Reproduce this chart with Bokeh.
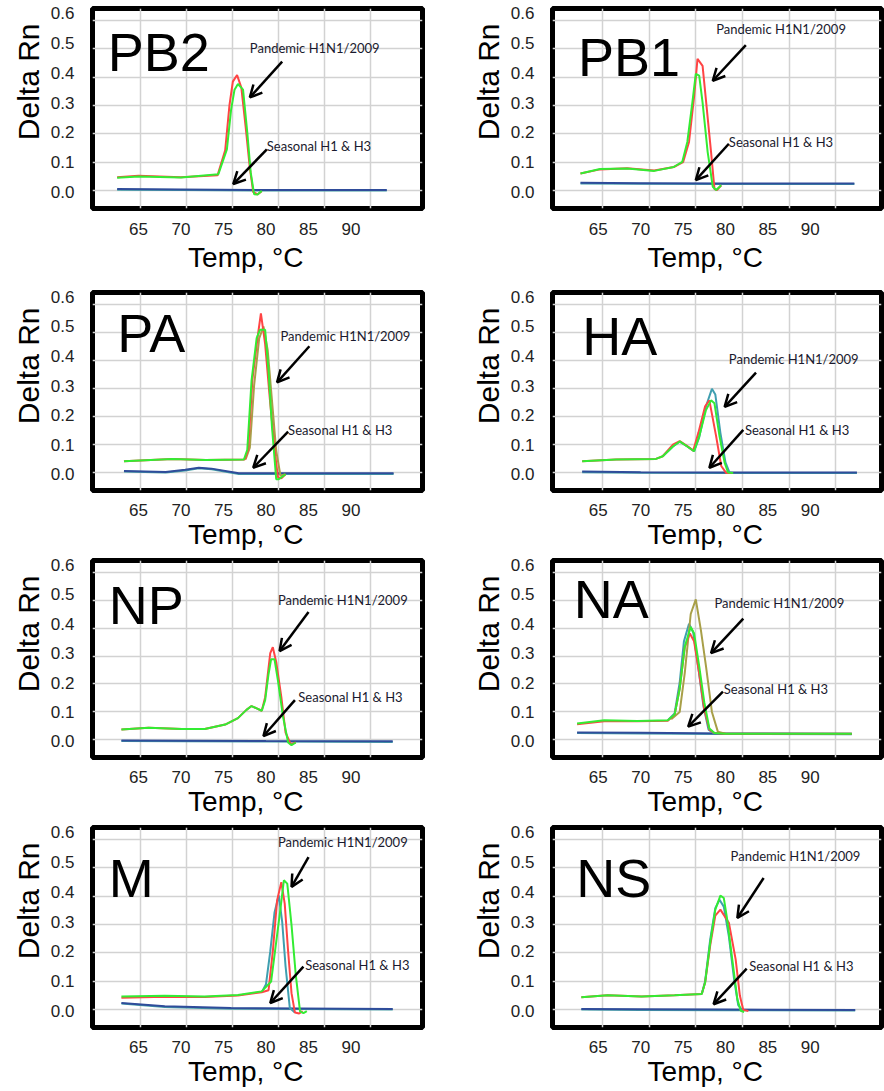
from bokeh.plotting import figure
from bokeh.layouts import gridplot
from bokeh.models import FixedTicker, PrintfTickFormatter, Label, Arrow, OpenHead
from bokeh.embed import file_html
from bokeh.resources import INLINE

# ---------------- data ----------------
X_TICKS = [65, 70, 75, 80, 85, 90]
Y_TICKS = [0.0, 0.1, 0.2, 0.3, 0.4, 0.5, 0.6]
PANELS = ["PB2", "PB1", "PA", "HA", "NP", "NA", "M", "NS"]
PANDEMIC_TEXT = "Pandemic H1N1/2009"
SEASONAL_TEXT = "Seasonal H1 & H3"
X_LABEL = "Temp, °C"
Y_LABEL = "Delta Rn"

# PB2
pb2_red_x = [62.5, 65.0, 70.0, 74.3, 75.2, 75.7, 76.1, 76.6, 77.1, 77.6, 78.1, 78.5, 79.0, 79.5]
pb2_red_y = [0.050, 0.055, 0.050, 0.056, 0.140, 0.290, 0.370, 0.392, 0.350, 0.220, 0.080, 0.000, -0.008, 0.003]
pb2_grn_x = [62.5, 65.0, 70.0, 74.4, 75.4, 75.9, 76.3, 76.7, 77.3, 77.8, 78.2, 78.6, 79.0, 79.5]
pb2_grn_y = [0.048, 0.052, 0.049, 0.060, 0.143, 0.277, 0.343, 0.362, 0.343, 0.199, 0.066, -0.007, -0.008, 0.004]
pb2_sea_x = [62.5, 70.0, 80.0, 94.2]
pb2_sea_y = [0.010, 0.009, 0.007, 0.007]

# PB1
pb1_red_x = [62.9, 65.2, 68.4, 71.6, 73.9, 75.0, 75.7, 76.3, 76.7, 77.3, 78.3, 78.7, 79.0, 79.5]
pb1_red_y = [0.062, 0.076, 0.080, 0.072, 0.084, 0.100, 0.168, 0.320, 0.446, 0.423, 0.134, 0.010, 0.007, 0.023]
pb1_grn_x = [62.9, 65.2, 68.4, 71.6, 73.9, 74.9, 75.5, 76.1, 76.5, 76.9, 77.3, 77.9, 78.5, 78.9, 79.5]
pb1_grn_y = [0.062, 0.077, 0.079, 0.071, 0.084, 0.101, 0.168, 0.301, 0.396, 0.390, 0.300, 0.134, 0.018, 0.007, 0.023]
pb1_sea_x = [62.9, 70.0, 80.0, 95.2]
pb1_sea_y = [0.031, 0.030, 0.029, 0.029]

# PA
pa_red_x = [63.3, 69.0, 72.9, 77.5, 77.9, 78.4, 79.0, 79.4, 79.9, 80.5, 81.1, 81.4, 81.8, 82.3]
pa_red_y = [0.044, 0.052, 0.048, 0.050, 0.083, 0.320, 0.461, 0.544, 0.440, 0.239, 0.061, -0.010, -0.014, 0.000]
pa_grn_x = [63.3, 69.0, 72.9, 77.4, 77.8, 78.3, 78.9, 79.3, 79.9, 80.3, 80.7, 81.2, 81.5, 82.3]
pa_grn_y = [0.044, 0.052, 0.048, 0.050, 0.083, 0.317, 0.461, 0.489, 0.489, 0.350, 0.161, -0.017, -0.017, 0.000]
pa_olv_x = [77.6, 78.1, 78.6, 79.2, 79.7, 80.2, 80.7, 81.2, 81.7, 82.3]
pa_olv_y = [0.050, 0.090, 0.300, 0.460, 0.500, 0.420, 0.250, 0.080, -0.005, 0.000]
pa_sea_x = [63.3, 68.2, 70.5, 72.1, 73.6, 76.8, 80.7, 95.0]
pa_sea_y = [0.011, 0.008, 0.015, 0.022, 0.019, 0.003, 0.003, 0.003]

# HA
ha_red_x = [63.1, 67.1, 71.8, 72.6, 73.8, 74.6, 75.5, 76.2, 76.8, 77.6, 78.1, 78.9, 79.5, 80.1, 80.9]
ha_red_y = [0.044, 0.050, 0.052, 0.061, 0.100, 0.112, 0.095, 0.080, 0.140, 0.230, 0.250, 0.128, 0.028, 0.004, 0.004]
ha_grn_x = [63.1, 67.1, 71.8, 72.6, 73.8, 74.6, 75.5, 76.3, 76.9, 77.7, 78.3, 78.7, 79.3, 79.9, 80.3, 80.9]
ha_grn_y = [0.044, 0.050, 0.052, 0.061, 0.094, 0.111, 0.094, 0.078, 0.128, 0.217, 0.250, 0.240, 0.128, 0.039, 0.006, 0.004]
ha_tea_x = [72.6, 73.8, 74.6, 75.5, 76.3, 76.9, 77.7, 78.4, 78.8, 79.4, 80.0, 80.5]
ha_tea_y = [0.061, 0.094, 0.110, 0.094, 0.078, 0.125, 0.230, 0.289, 0.270, 0.140, 0.040, 0.004]
ha_sea_x = [63.1, 70.0, 80.0, 95.5]
ha_sea_y = [0.009, 0.007, 0.006, 0.006]

# NP
np_red_x = [63.0, 66.2, 70.1, 72.8, 75.2, 76.7, 77.7, 78.3, 78.9, 79.5, 79.9, 80.5, 80.8, 81.2, 81.8, 82.3, 82.9, 83.5]
np_red_y = [0.040, 0.046, 0.042, 0.042, 0.057, 0.079, 0.107, 0.120, 0.112, 0.104, 0.150, 0.300, 0.320, 0.270, 0.151, 0.030, -0.010, -0.004]
np_grn_x = [63.0, 66.2, 70.1, 72.8, 75.2, 76.7, 77.7, 78.3, 78.9, 79.5, 79.9, 80.3, 80.6, 81.0, 81.4, 82.0, 82.6, 83.0, 83.5]
np_grn_y = [0.040, 0.046, 0.042, 0.042, 0.057, 0.079, 0.107, 0.120, 0.112, 0.104, 0.140, 0.229, 0.279, 0.279, 0.207, 0.084, -0.004, -0.013, -0.004]
np_sea_x = [63.0, 70.0, 80.0, 94.9]
np_sea_y = [0.003, 0.002, 0.001, 0.000]

# NA
na_red_x = [62.5, 65.7, 69.6, 73.2, 74.0, 74.6, 75.2, 75.8, 76.3, 76.9, 77.5, 78.1, 78.7, 80.0, 94.9]
na_red_y = [0.058, 0.068, 0.068, 0.070, 0.090, 0.180, 0.320, 0.367, 0.340, 0.230, 0.110, 0.040, 0.028, 0.026, 0.026]
na_grn_x = [62.5, 65.7, 69.6, 73.2, 74.0, 74.6, 75.2, 75.9, 76.3, 76.9, 77.5, 78.1, 78.7, 80.0, 94.9]
na_grn_y = [0.061, 0.072, 0.069, 0.072, 0.091, 0.178, 0.322, 0.389, 0.367, 0.256, 0.133, 0.044, 0.028, 0.026, 0.026]
na_tea_x = [73.2, 74.0, 74.6, 75.1, 75.7, 76.2, 76.8, 77.4, 78.0, 78.6]
na_tea_y = [0.072, 0.095, 0.200, 0.340, 0.400, 0.370, 0.250, 0.120, 0.040, 0.028]
na_olv_x = [73.6, 74.6, 75.2, 75.9, 76.5, 77.1, 77.7, 78.4, 79.1, 80.0]
na_olv_y = [0.075, 0.100, 0.233, 0.433, 0.483, 0.378, 0.256, 0.100, 0.033, 0.026]
na_sea_x = [62.5, 70.0, 80.0, 94.9]
na_sea_y = [0.030, 0.029, 0.027, 0.026]

# M
m_red_x = [63.0, 68.1, 72.8, 76.7, 79.5, 80.3, 80.8, 81.3, 81.8, 82.2, 82.6, 83.0, 83.4, 83.9, 84.3]
m_red_y = [0.045, 0.048, 0.047, 0.052, 0.063, 0.070, 0.200, 0.370, 0.432, 0.360, 0.200, 0.060, -0.005, -0.008, 0.000]
m_grn_x = [63.0, 68.1, 72.8, 76.7, 79.5, 80.6, 81.2, 81.7, 82.1, 82.5, 83.0, 83.5, 84.0, 84.4, 84.8]
m_grn_y = [0.049, 0.051, 0.049, 0.054, 0.066, 0.099, 0.232, 0.343, 0.438, 0.427, 0.288, 0.121, -0.001, -0.007, 0.000]
m_tea_x = [79.5, 80.0, 80.5, 81.0, 81.5, 81.9, 82.3, 82.8, 83.4]
m_tea_y = [0.063, 0.090, 0.200, 0.330, 0.388, 0.300, 0.150, 0.010, -0.005]
m_sea_x = [63.0, 68.1, 75.9, 94.9]
m_sea_y = [0.027, 0.016, 0.010, 0.007]

# NS
ns_red_x = [63.0, 66.1, 70.1, 74.0, 77.2, 77.6, 78.2, 78.8, 79.4, 80.4, 81.2, 81.7, 82.1, 82.7]
ns_red_y = [0.046, 0.053, 0.049, 0.053, 0.057, 0.096, 0.220, 0.320, 0.340, 0.296, 0.173, 0.051, 0.004, 0.000]
ns_grn_x = [63.0, 66.1, 70.1, 74.0, 77.2, 77.6, 78.2, 78.8, 79.4, 79.8, 80.2, 80.8, 81.4, 81.8, 82.2]
ns_grn_y = [0.046, 0.053, 0.049, 0.053, 0.057, 0.096, 0.229, 0.340, 0.387, 0.379, 0.307, 0.173, 0.040, 0.001, -0.003]
ns_tea_x = [77.2, 77.6, 78.2, 78.8, 79.3, 79.8, 80.4, 81.0, 81.5, 82.0]
ns_tea_y = [0.057, 0.100, 0.240, 0.345, 0.373, 0.350, 0.250, 0.110, 0.020, 0.002]
ns_sea_x = [63.0, 70.0, 80.0, 95.3]
ns_sea_y = [0.007, 0.006, 0.005, 0.004]

# annotation anchors (data units): panel title (centre of letters), pandemic label, seasonal label, arrows
title_xy = {"PB2": (61.4, 0.470), "PB1": (62.6, 0.453), "PA": (62.5, 0.478), "HA": (63.1, 0.467),
            "NP": (61.5, 0.463), "NA": (62.1, 0.484), "M": (61.5, 0.446), "NS": (62.4, 0.446)}
pand_xy = {"PB2": (78.1, 0.483), "PB1": (78.9, 0.547), "PA": (81.7, 0.467), "HA": (80.4, 0.389),
           "NP": (81.4, 0.479), "NA": (78.7, 0.472), "M": (81.4, 0.566), "NS": (80.6, 0.518)}
seas_xy = {"PB2": (80.1, 0.153), "PB1": (80.4, 0.168), "PA": (82.6, 0.150), "HA": (82.3, 0.150),
           "NP": (83.8, 0.151), "NA": (79.8, 0.178), "M": (84.6, 0.154), "NS": (82.8, 0.151)}
pand_arrow = {"PB2": (81.9, 0.437, 78.1, 0.317), "PB1": (82.4, 0.492, 78.5, 0.373),
              "PA": (85.1, 0.433, 81.3, 0.311), "HA": (83.6, 0.344, 79.9, 0.228),
              "NP": (85.0, 0.440, 81.6, 0.307), "NA": (82.1, 0.417, 78.3, 0.300),
              "M": (85.0, 0.516, 83.0, 0.416), "NS": (84.5, 0.446, 81.4, 0.312)}
seas_arrow = {"PB2": (80.1, 0.143, 76.15, 0.027), "PB1": (80.4, 0.162, 76.5, 0.040),
              "PA": (82.6, 0.144, 78.5, 0.022), "HA": (82.1, 0.150, 78.1, 0.022),
              "NP": (83.4, 0.140, 79.7, 0.018), "NA": (79.7, 0.169, 75.6, 0.050),
              "M": (84.4, 0.149, 80.5, 0.027), "NS": (82.5, 0.142, 78.6, 0.023)}

curves = {
    "PB2": dict(red=(pb2_red_x, pb2_red_y), grn=(pb2_grn_x, pb2_grn_y), sea=(pb2_sea_x, pb2_sea_y)),
    "PB1": dict(red=(pb1_red_x, pb1_red_y), grn=(pb1_grn_x, pb1_grn_y), sea=(pb1_sea_x, pb1_sea_y)),
    "PA": dict(red=(pa_red_x, pa_red_y), grn=(pa_grn_x, pa_grn_y), olv=(pa_olv_x, pa_olv_y), sea=(pa_sea_x, pa_sea_y)),
    "HA": dict(red=(ha_red_x, ha_red_y), grn=(ha_grn_x, ha_grn_y), tea=(ha_tea_x, ha_tea_y), sea=(ha_sea_x, ha_sea_y)),
    "NP": dict(red=(np_red_x, np_red_y), grn=(np_grn_x, np_grn_y), sea=(np_sea_x, np_sea_y)),
    "NA": dict(red=(na_red_x, na_red_y), grn=(na_grn_x, na_grn_y), tea=(na_tea_x, na_tea_y), olv=(na_olv_x, na_olv_y), sea=(na_sea_x, na_sea_y)),
    "M": dict(red=(m_red_x, m_red_y), grn=(m_grn_x, m_grn_y), tea=(m_tea_x, m_tea_y), sea=(m_sea_x, m_sea_y)),
    "NS": dict(red=(ns_red_x, ns_red_y), grn=(ns_grn_x, ns_grn_y), tea=(ns_tea_x, ns_tea_y), sea=(ns_sea_x, ns_sea_y)),
}

# ---------------- styling / layout ----------------
COLORS = {"sea_teal": "#45a0a8", "sea": "#2f4c9a", "tea": "#3f9fb0", "olv": "#a89f48",
          "red": "#ff4444", "grn": "#33ec33"}
COL_W = 442
ROW_H = [284, 268, 267, 272]
BORDER_TOP = 8
FRAME_H = 200
BORDER_LEFT = [92, 110]
FRAME_W = [330, 329]
GRID_X = [[65.2, 70.7, 76.1, 81.5, 86.9, 92.3], [65.5, 71.0, 76.5, 82.0, 87.5, 93.0]]
GRID_Y = [0.005, 0.1, 0.195, 0.29, 0.385, 0.48, 0.575]
FONT = "Liberation Sans"
NBSP = "\u00a0"


def make_panel(name, r, c):
    p = figure(width=COL_W, height=ROW_H[r], x_range=(59.6, 98.4), y_range=(-0.055, 0.615),
               output_backend="svg", toolbar_location=None,
               title=Y_LABEL, title_location="left",
               min_border_left=BORDER_LEFT[c], min_border_right=COL_W - BORDER_LEFT[c] - FRAME_W[c],
               min_border_top=BORDER_TOP, min_border_bottom=ROW_H[r] - BORDER_TOP - FRAME_H)
    p.background_fill_color = "white"
    p.border_fill_color = "white"
    p.outline_line_color = "black"
    p.outline_line_width = 5

    p.title.align = "right"
    p.title.offset = 15
    p.title.standoff = 6
    p.title.text_font = FONT
    p.title.text_font_size = "30px"
    p.title.text_font_style = "normal"
    p.title.text_color = "black"

    p.xgrid.ticker = FixedTicker(ticks=GRID_X[c])
    p.ygrid.ticker = FixedTicker(ticks=GRID_Y)
    p.grid.grid_line_color = "#d2d2d2"
    p.grid.grid_line_width = 1.5

    p.xaxis.ticker = FixedTicker(ticks=X_TICKS)
    p.yaxis.ticker = FixedTicker(ticks=Y_TICKS)
    p.yaxis.formatter = PrintfTickFormatter(format="%.1f")
    for ax in (p.xaxis, p.yaxis):
        ax.axis_line_color = None
        ax.major_tick_line_color = None
        ax.minor_tick_line_color = None
        ax.major_label_text_font = FONT
        ax.major_label_text_font_size = "17px"
        ax.major_label_text_color = "#222222"
    p.xaxis.major_label_standoff = 8 if r == 0 else 7
    p.yaxis.major_label_standoff = 12
    p.xaxis.axis_label = X_LABEL + NBSP * 3
    p.xaxis.axis_label_standoff = 4 if r == 0 else 0
    p.xaxis.axis_label_text_font = FONT
    p.xaxis.axis_label_text_font_size = "28px"
    p.xaxis.axis_label_text_font_style = "normal"
    p.xaxis.axis_label_text_color = "black"

    cv = curves[name]
    sx, sy = cv["sea"]
    p.line(sx, [v - 0.002 for v in sy], line_color=COLORS["sea_teal"], line_width=2)
    p.line(sx, sy, line_color=COLORS["sea"], line_width=2)
    for key in ("tea", "olv", "red", "grn"):
        if key in cv:
            xs, ys = cv[key]
            p.line(xs, ys, line_color=COLORS[key], line_width=2)

    tx, ty = title_xy[name]
    p.add_layout(Label(x=tx, y=ty, text=name, text_font=FONT, text_font_size="54px",
                       text_baseline="middle", text_align="left", text_color="black"))
    px_, py_ = pand_xy[name]
    p.add_layout(Label(x=px_, y=py_, text=PANDEMIC_TEXT, text_font="Lato", text_font_size="13px",
                       text_baseline="middle", text_align="left", text_color="#1a1a2e"))
    qx, qy = seas_xy[name]
    p.add_layout(Label(x=qx, y=qy, text=SEASONAL_TEXT, text_font="Lato", text_font_size="13px",
                       text_baseline="middle", text_align="left", text_color="#1a1a2e"))
    for (x0, y0, x1, y1) in (pand_arrow[name], seas_arrow[name]):
        p.add_layout(Arrow(x_start=x0, y_start=y0, x_end=x1, y_end=y1, line_width=2.5, line_color="black",
                           end=OpenHead(size=12, line_width=2.5, line_color="black")))
    return p


rows = []
for r in range(4):
    rows.append([make_panel(PANELS[2 * r + c], r, c) for c in range(2)])

grid = gridplot(rows, toolbar_location=None)

open("out.html", "w").write(file_html(grid, INLINE))
